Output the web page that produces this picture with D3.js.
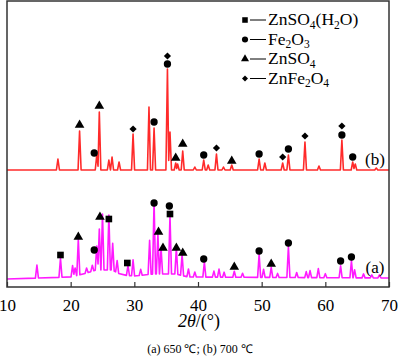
<!DOCTYPE html>
<html>
<head>
<meta charset="utf-8">
<script src="https://cdn.jsdelivr.net/npm/d3@7"></script>
<style>
  body { margin: 0; background: #fff; }
  svg text { font-family: "Liberation Serif", "Times New Roman", serif; }
</style>
</head>
<body>
<svg width="400" height="362"></svg>
<script>
// Peak lists: [2theta, height above own baseline] (a.u.)
const peaksA = [
  [14.7, 13], [18.4, 19], [20.3, 11], [20.7, 8], [21.2, 36], [22.5, 5], [23.4, 6],
  [24.1, 24], [24.5, 41], [25.0, 56], [26.0, 55], [26.6, 27], [27.3, 12],
  [29.0, 10], [29.8, 16], [31.0, 6], [32.4, 34], [33.1, 72], [33.7, 40], [34.2, 26],
  [35.6, 58], [36.6, 26], [37.5, 21], [38.5, 8], [39.5, 5], [41.0, 15],
  [42.5, 6], [43.3, 8], [44.1, 5], [45.7, 6], [47.0, 4], [49.6, 23], [50.3, 8],
  [51.5, 10], [52.5, 4], [54.2, 31], [55.5, 5], [57.0, 6], [57.6, 7], [58.9, 9],
  [60.0, 4], [62.4, 12], [64.1, 17], [64.6, 8], [66.0, 4], [67.3, 3], [68.5, 3]
];
const peaksB = [
  [18.0, 11], [21.4, 39], [24.1, 15], [24.5, 58], [26.0, 10], [26.5, 13], [27.6, 8],
  [29.8, 36], [32.3, 63], [33.1, 42], [35.2, 101], [35.6, 38], [36.5, 7], [36.8, 6],
  [37.6, 19], [39.5, 3], [40.9, 10], [41.6, 5], [42.9, 16], [44.0, 3], [45.3, 5],
  [49.6, 11], [50.5, 7], [53.3, 7], [54.2, 15], [56.8, 28], [59.0, 4],
  [62.6, 30], [64.3, 8], [64.7, 6], [68.0, 2]
];
// background humps under each pattern
const bgAx = [10, 20, 22, 24, 26.5, 28, 30, 33, 36.5, 38.5, 70];
const bgAy = [0, 2, 5, 9, 9, 4, 3, 5, 5, 2, 1];
const bgBx = [10, 40, 70];
const bgBy = [0, 0, 0];
const offsetA = 8;
const offsetB = 117;

// Phase markers: [2theta, level, phase]
const markersA = [
  [18.4, 32, "sq"], [21.2, 50, "tri"], [23.7, 37, "cir"], [24.6, 70, "tri"], [26.0, 68, "sq"],
  [28.9, 24, "sq"], [33.1, 84, "cir"], [33.8, 55, "tri"], [34.5, 39, "tri"], [35.5, 81, "cir"],
  [35.6, 73, "sq"], [36.6, 39, "tri"], [37.6, 34, "tri"], [40.9, 28, "cir"], [45.7, 20, "tri"],
  [49.6, 36, "cir"], [51.5, 23, "tri"], [54.2, 44, "cir"], [62.4, 26, "cir"], [64.1, 30, "cir"]
];
const markersB = [
  [21.4, 162, "tri"], [23.7, 134, "cir"], [24.5, 181, "tri"], [29.8, 158, "dia"], [33.1, 165, "cir"],
  [35.2, 223, "cir"], [35.2, 231, "dia"], [36.5, 129, "tri"], [37.6, 143, "tri"], [40.9, 132, "cir"],
  [42.9, 139, "dia"], [45.3, 126, "tri"], [49.6, 133, "cir"], [53.3, 130, "dia"], [54.2, 138, "cir"],
  [56.8, 151, "dia"], [62.6, 152, "cir"], [62.6, 161, "dia"], [64.3, 130, "cir"]
];

const legendItems = [
  { phase: "sq", parts: [["ZnSO", 0], ["4", 1], ["(H", 0], ["2", 1], ["O)", 0]] },
  { phase: "cir", parts: [["Fe", 0], ["2", 1], ["O", 0], ["3", 1]] },
  { phase: "tri", parts: [["ZnSO", 0], ["4", 1]] },
  { phase: "dia", parts: [["ZnFe", 0], ["2", 1], ["O", 0], ["4", 1]] }
];
const xTicks = [10, 20, 30, 40, 50, 60, 70];

const svg = d3.select("svg");
const serif = "Liberation Serif, Times New Roman, serif";
const margin = { top: 1, right: 11, bottom: 75, left: 7 };
const W = 400 - margin.left - margin.right;
const H = 362 - margin.top - margin.bottom;

const x = d3.scaleLinear().domain([10, 70]).range([margin.left, margin.left + W]);
const y = d3.scaleLinear().domain([0, 286]).range([margin.top + H, margin.top]);

// diamond = square turned 45 degrees
const symType = { sq: d3.symbolSquare, cir: d3.symbolCircle, tri: d3.symbolTriangle, dia: d3.symbolSquare };
const symSize = { sq: 44, cir: 42, tri: 40, dia: 26 };
const symRot = { sq: 0, cir: 0, tri: 0, dia: 45 };

// turn a peak list into a polyline
function profile(peaks, bgx, bgy, offset) {
  const hw = 0.24;
  const bg = d3.scaleLinear().domain(bgx).range(bgy).clamp(true);
  const pts = [[10, 0]];
  peaks.forEach((p, i) => {
    const prev = pts[pts.length - 1];
    const left = p[0] - hw;
    if (left > prev[0]) pts.push([left, 0]);
    pts.push([p[0], p[1]]);
    const next = peaks[i + 1];
    if (next && next[0] - hw < p[0] + hw) {
      pts.push([(p[0] + next[0]) / 2, Math.min(p[1], next[1]) * 0.25]);
    } else {
      pts.push([p[0] + hw, 0]);
    }
  });
  pts.push([70, 0]);
  return pts.map(d => [d[0], d[1] + bg(d[0]) + offset]);
}

const line = d3.line().x(d => x(d[0])).y(d => y(d[1]));

svg.append("path")
  .attr("d", line(profile(peaksB, bgBx, bgBy, offsetB)))
  .attr("fill", "none")
  .attr("stroke", "#ff2a2a")
  .attr("stroke-width", 1.6)
  .attr("stroke-linejoin", "round");

svg.append("path")
  .attr("d", line(profile(peaksA, bgAx, bgAy, offsetA)))
  .attr("fill", "none")
  .attr("stroke", "#ff1aff")
  .attr("stroke-width", 1.6)
  .attr("stroke-linejoin", "round");

// markers
svg.append("g")
  .selectAll("path")
  .data(markersA.concat(markersB))
  .join("path")
  .attr("transform", d => `translate(${x(d[0])},${y(d[1])}) rotate(${symRot[d[2]]})`)
  .attr("d", d => d3.symbol().type(symType[d[2]]).size(symSize[d[2]])())
  .attr("fill", "#000");

// frame
svg.append("rect")
  .attr("x", margin.left)
  .attr("y", margin.top)
  .attr("width", W)
  .attr("height", H)
  .attr("fill", "none")
  .attr("stroke", "#333")
  .attr("stroke-width", 1.5);

// x axis, ticks inward
const xAxis = svg.append("g")
  .attr("transform", `translate(0,${margin.top + H})`)
  .attr("font-family", serif)
  .call(d3.axisBottom(x).tickValues(xTicks).tickSizeInner(-5).tickSizeOuter(0).tickPadding(12));
xAxis.select(".domain").remove();
xAxis.selectAll("line").attr("stroke", "#333").attr("stroke-width", 1.2);
xAxis.selectAll("text")
  .attr("font-family", serif)
  .attr("font-size", 17)
  .attr("fill", "#000");

// axis title
const xt = svg.append("text")
  .attr("x", 199)
  .attr("y", 327)
  .attr("text-anchor", "middle")
  .attr("font-family", serif)
  .attr("font-size", 18);
xt.append("tspan").attr("font-style", "italic").text("2θ");
xt.append("tspan").text("/(°)");

// caption
svg.append("text")
  .attr("x", 200)
  .attr("y", 353)
  .attr("text-anchor", "middle")
  .attr("font-family", serif)
  .attr("font-size", 12)
  .text("(a) 650 ℃; (b) 700 ℃");

// curve labels
svg.append("text").attr("x", 375).attr("y", 165).attr("text-anchor", "middle")
  .attr("font-family", serif).attr("font-size", 17).text("(b)");
svg.append("text").attr("x", 375).attr("y", 273).attr("text-anchor", "middle")
  .attr("font-family", serif).attr("font-size", 17).text("(a)");

// legend
const legend = svg.append("g");
legendItems.forEach((item, i) => {
  const by = 25 + i * 19.5;
  const g = legend.append("g");
  g.append("path")
    .attr("transform", `translate(245,${by - 5}) rotate(${symRot[item.phase]})`)
    .attr("d", d3.symbol().type(symType[item.phase]).size(symSize[item.phase] * 0.7)())
    .attr("fill", "#000");
  g.append("line")
    .attr("x1", 250).attr("x2", 266)
    .attr("y1", by - 5).attr("y2", by - 5)
    .attr("stroke", "#000").attr("stroke-width", 1);
  const t = g.append("text").attr("x", 268).attr("y", by)
    .attr("font-family", serif).attr("font-size", 17.5);
  let sub = false;
  item.parts.forEach(([s, isSub]) => {
    const ts = t.append("tspan").text(s);
    if (isSub && !sub) { ts.attr("dy", 3.5).attr("font-size", 11.5); sub = true; }
    else if (isSub) { ts.attr("font-size", 11.5); }
    else if (sub) { ts.attr("dy", -3.5); sub = false; }
  });
});
</script>
</body>
</html>
